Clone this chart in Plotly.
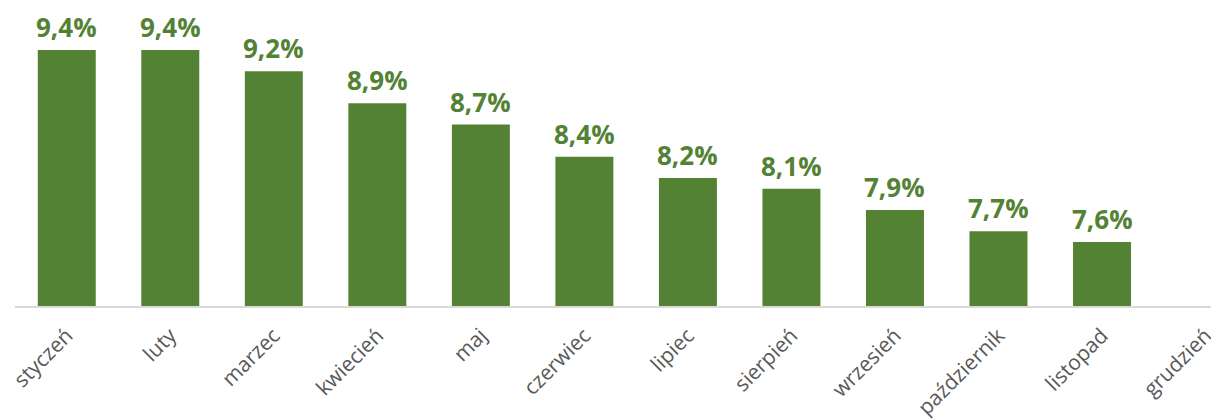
import plotly.graph_objects as go

months = ["styczeń", "luty", "marzec", "kwiecień", "maj", "czerwiec", "lipiec",
          "sierpień", "wrzesień", "październik", "listopad", "grudzień"]
values = [9.4, 9.4, 9.2, 8.9, 8.7, 8.4, 8.2, 8.1, 7.9, 7.7, 7.6, None]

GREEN = "#548235"

fig = go.Figure()
fig.add_trace(go.Bar(
    x=months, y=values, marker_color=GREEN, marker_line_width=0,
    hoverinfo="skip"
))

for m, v in zip(months, values):
    if v is None:
        continue
    fig.add_annotation(
        x=m, y=v, text=f"{v:.1f}".replace(".", ",") + "%",
        showarrow=False, yanchor="bottom", yshift=4, borderpad=0,
        font=dict(family="Open Sans", size=26, color=GREEN, weight="bold"),
    )

fig.update_layout(
    width=1219, height=419,
    margin=dict(l=7, r=8, t=0, b=121, autoexpand=False),
    paper_bgcolor="white", plot_bgcolor="white",
    bargap=0.44, showlegend=False,
    xaxis=dict(
        range=[-0.5, 11.13], tickangle=-45, showgrid=False, automargin=False,
        showline=True, linecolor="#d9d9d9", linewidth=2,
        ticks="", ticklabelstandoff=7,
        tickfont=dict(family="Open Sans", size=21, color="#595959"),
    ),
    yaxis=dict(range=[7.0, 9.793], visible=False, showgrid=False, zeroline=False),
)

fig.write_html("out.html")
